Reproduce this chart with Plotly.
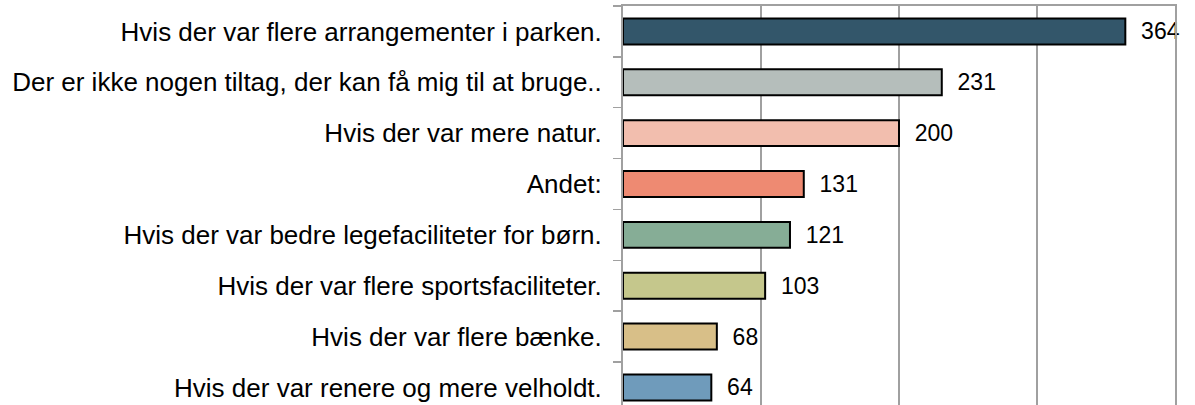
import plotly.graph_objects as go

categories = [
    "Hvis der var flere arrangementer i parken.",
    "Der er ikke nogen tiltag, der kan få mig til at bruge..",
    "Hvis der var mere natur.",
    "Andet:",
    "Hvis der var bedre legefaciliteter for børn.",
    "Hvis der var flere sportsfaciliteter.",
    "Hvis der var flere bænke.",
    "Hvis der var renere og mere velholdt.",
]
values = [364, 231, 200, 131, 121, 103, 68, 64]
colors = ["#33566A", "#B5BEBB", "#F2BEAE", "#EE8A72", "#86AD96",
          "#C5C78C", "#D8BF88", "#6F9BBB"]
x_ticks = [0, 100, 200, 300, 400]

fig = go.Figure(go.Bar(
    y=categories,
    x=values,
    orientation="h",
    width=0.51,
    marker=dict(color=colors, line=dict(color="#000000", width=2)),
    text=values,
    texttemplate="  %{x}",
    textposition="outside",
    textfont=dict(family="Liberation Sans, Arial, sans-serif", size=23, color="#000000"),
    constraintext="none",
    cliponaxis=False,
    hoverinfo="skip",
))

fig.update_layout(
    width=1195,
    height=405,
    margin=dict(l=623, r=20, t=6, b=0, autoexpand=False),
    paper_bgcolor="#FFFFFF",
    plot_bgcolor="#FFFFFF",
    showlegend=False,
    font=dict(family="Liberation Sans, Arial, sans-serif", size=26, color="#000000"),
    xaxis=dict(
        range=[0, 400],
        tickvals=x_ticks,
        side="top",
        showticklabels=False,
        ticks="",
        showgrid=True,
        gridcolor="#A0A0A0",
        gridwidth=1.5,
        showline=True,
        linecolor="#A0A0A0",
        linewidth=2,
        zeroline=False,
        fixedrange=True,
    ),
    yaxis=dict(
        type="category",
        categoryorder="array",
        categoryarray=categories,
        range=[7.345, -0.5],
        tickson="boundaries",
        ticks="outside",
        ticklen=8,
        tickwidth=1.5,
        tickcolor="#A0A0A0",
        showline=True,
        mirror=True,
        linecolor="#A0A0A0",
        linewidth=2,
        showgrid=False,
        zeroline=False,
        automargin=False,
        ticklabelstandoff=14,
        tickfont=dict(family="Liberation Sans, Arial, sans-serif", size=26, color="#000000"),
        fixedrange=True,
    ),
)

fig.write_html(
    "out.html",
    config={"displayModeBar": False, "staticPlot": True},
    post_script="document.body.style.margin='0px';document.body.style.overflow='hidden';",
)
